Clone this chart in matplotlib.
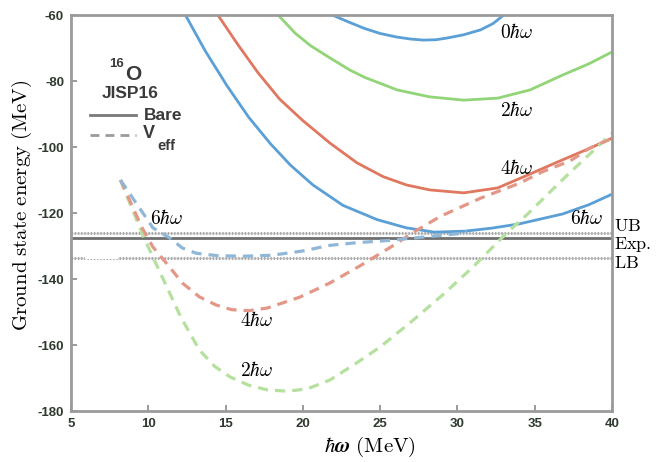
import matplotlib
matplotlib.use("Agg")
import matplotlib.pyplot as plt
from matplotlib.lines import Line2D
from matplotlib.patches import Rectangle

plt.rcParams['mathtext.fontset'] = 'cm'

# ---------------- data ----------------
# Bare interaction (solid)
bare0_x = [21.9, 23.0, 24.0, 25.0, 26.1, 27.0, 27.8, 28.6, 29.3, 30.4, 31.5, 32.3, 33.0]
bare0_y = [-60, -62.2, -64.1, -65.6, -66.7, -67.3, -67.6, -67.5, -67.0, -66.0, -64.5, -62.6, -60]

bare2_x = [18.4, 19.5, 20.5, 21.75, 23.05, 24.0, 26.1, 28.2, 30.4, 32.6, 34.7, 36.8, 38.5, 40.0]
bare2_y = [-60, -65.5, -69.3, -73.0, -76.7, -78.9, -82.7, -84.8, -85.8, -85.2, -82.7, -78.2, -74.8, -71.2]

bare4_x = [14.5, 15.8, 17.1, 18.5, 20.0, 21.75, 23.5, 25.2, 26.7, 28.2, 30.4, 32.6, 34.3, 36.5, 38.5, 40.0]
bare4_y = [-60, -69.0, -77.5, -85.5, -92.0, -98.8, -104.8, -109.0, -111.5, -113.0, -113.9, -112.4, -109.0, -104.5, -100.5, -97.3]

bare6_x = [12.4, 13.7, 15.1, 16.5, 17.9, 19.2, 20.65, 22.6, 24.8, 26.7, 28.5, 30.5, 32.2, 34.0, 36.8, 38.5, 40.0]
bare6_y = [-60, -71.0, -81.5, -91.0, -99.0, -105.5, -111.5, -117.7, -122.0, -124.5, -125.8, -125.5, -124.6, -123.3, -120.3, -117.5, -114.3]

# Effective interaction (dashed)
veff2_x = [8.2, 9.7, 10.6, 11.2, 12.1, 13.3, 14.3, 15.3, 16.5, 17.7, 19.0, 20.3, 21.75, 23.3, 25.0, 27.0, 29.0, 31.0, 33.2, 34.5, 37.0, 40.0]
veff2_y = [-110, -127.3, -136.4, -142.4, -151.5, -161.5, -166.5, -169.7, -172.2, -173.6, -174.0, -173.3, -170.6, -166.0, -160.6, -153.0, -145.0, -136.4, -126.0, -120.5, -109.0, -95.8]

veff4_x = [8.2, 9.6, 10.3, 11.1, 12.2, 13.3, 14.4, 15.4, 16.5, 17.7, 19.8, 21.75, 23.7, 25.8, 27.1, 28.9, 31.5, 34.0, 35.5, 37.3, 38.5, 40.0]
veff4_y = [-110, -124.5, -130.3, -134.8, -141.2, -145.4, -147.9, -149.3, -149.6, -148.8, -145.5, -141.2, -136.0, -130.0, -126.0, -121.0, -115.5, -111.0, -107.5, -104.2, -100.5, -97.4]

veff6_x = [8.2, 10.3, 11.4, 12.2, 13.1, 14.4, 16.1, 18.0, 20.0, 21.75, 23.5, 25.6, 27.8, 30.0, 30.6]
veff6_y = [-110, -124.5, -127.6, -130.6, -132.2, -132.9, -133.1, -132.8, -131.5, -129.8, -129.0, -128.3, -127.3, -126.3, -125.6]

E_UB = -126.1
E_EXP = -127.6
E_LB = -133.6

x_ticks = [5, 10, 15, 20, 25, 30, 35, 40]
y_ticks = [-180, -160, -140, -120, -100, -80, -60]

# ---------------- figure ----------------
W, H = 658, 462
fig = plt.figure(figsize=(W / 100, H / 100), dpi=100)
ax = fig.add_axes([71 / W, (H - 411) / H, 541 / W, 396 / H])


def fx(px):
    return px / W


def fy(py):
    return 1 - py / H


blue, red, green = '#5a9fd5', '#e0775f', '#92d478'
blue_d, red_d, green_d = '#90b7d8', '#e49787', '#b5e09e'

lw = 2.0
ax.plot(bare0_x, bare0_y, color=blue, lw=lw)
ax.plot(bare2_x, bare2_y, color=green, lw=lw)
ax.plot(bare4_x, bare4_y, color=red, lw=lw)
ax.plot(bare6_x, bare6_y, color=blue, lw=lw)

dash = (3.2, 2.2)
ax.plot(veff2_x, veff2_y, color=green_d, lw=2.3, dashes=dash)
ax.plot(veff4_x, veff4_y, color=red_d, lw=2.3, dashes=dash)
ax.plot(veff6_x, veff6_y, color=blue_d, lw=2.3, dashes=dash)

# reference lines
for e in (E_UB, E_LB):
    ax.axhline(e, color='#cfcfcf', lw=1.0, zorder=1)
    ax.axhline(e, color='#a9a9a9', lw=2.2, dashes=(0.45, 0.6), zorder=1)
ax.axhline(E_EXP, color='#6f6f6f', lw=2.0, zorder=1)

ax.set_xlim(5, 40)
ax.set_ylim(-180, -60)
ax.set_xticks(x_ticks)
ax.set_yticks(y_ticks)
ax.set_xticklabels([str(v) for v in x_ticks])
ax.set_yticklabels([str(v) for v in y_ticks])
for s in ax.spines.values():
    s.set_color('#9a9a9a')
    s.set_linewidth(2.0)
ax.tick_params(direction='in', length=4, width=1.2, color='#8a8a8a',
               labelsize=9.5, labelcolor='#2f3a2f', pad=5)
for lab in ax.get_xticklabels() + ax.get_yticklabels():
    lab.set_fontfamily('Liberation Sans')
    lab.set_fontweight('bold')

# axis labels
fig.text(fx(22), fy(205), r'$\mathrm{Ground\ state\ energy\ (MeV)}$', rotation=90,
         ha='center', va='center', fontsize=15)
fig.text(fx(370), fy(447), r'$\hbar\boldsymbol{\omega}\ \mathrm{(MeV)}$',
         ha='center', va='center', fontsize=15)

# curve labels
lab_fs = 14
for txt, px, py in [(r'$0\hbar\omega$', 517, 32), (r'$2\hbar\omega$', 517, 110),
                    (r'$4\hbar\omega$', 517, 169), (r'$6\hbar\omega$', 587, 218),
                    (r'$6\hbar\omega$', 167, 218), (r'$4\hbar\omega$', 257, 320),
                    (r'$2\hbar\omega$', 257, 370)]:
    fig.text(fx(px), fy(py), txt, ha='center', va='center', fontsize=lab_fs)

for txt, py in [(r'$\mathrm{UB}$', 226), (r'$\mathrm{Exp.}$', 244), (r'$\mathrm{LB}$', 263)]:
    fig.text(fx(614), fy(py), txt, ha='left', va='center', fontsize=13)

# legend (hand drawn)
tc = '#3a3a3a'
fkw = dict(family='Liberation Sans', fontweight='bold', color=tc)
fig.text(fx(116), fy(64), '16', ha='center', va='center', fontsize=9.5, **fkw)
fig.text(fx(133), fy(74), 'O', ha='center', va='center', fontsize=15, **fkw)
fig.text(fx(130), fy(93), 'JISP16', ha='center', va='center', fontsize=12.5, **fkw)
fig.add_artist(Line2D([fx(90), fx(136)], [fy(115), fy(115)], color='#7a7a7a', lw=2.0))
fig.text(fx(144), fy(115), 'Bare', ha='left', va='center', fontsize=12.5, **fkw)
fig.add_artist(Line2D([fx(90), fx(136)], [fy(135), fy(135)], color='#9a9a9a', lw=2.0,
                      dashes=(3.2, 2.2)))
fig.text(fx(143), fy(134), 'V', ha='left', va='center', fontsize=13, **fkw)
fig.text(fx(157), fy(146), 'eff', ha='left', va='center', fontsize=10.5, **fkw)

# white patches present in the reference image
for (x0, y0, x1, y1) in [(78, 220, 113, 232), (85, 241, 118, 259), (85, 262, 117, 280)]:
    fig.add_artist(Rectangle((fx(x0), fy(y1)), fx(x1) - fx(x0), fy(y0) - fy(y1),
                             facecolor='white', edgecolor='none', zorder=10))

fig.savefig('out.png', dpi=100)
